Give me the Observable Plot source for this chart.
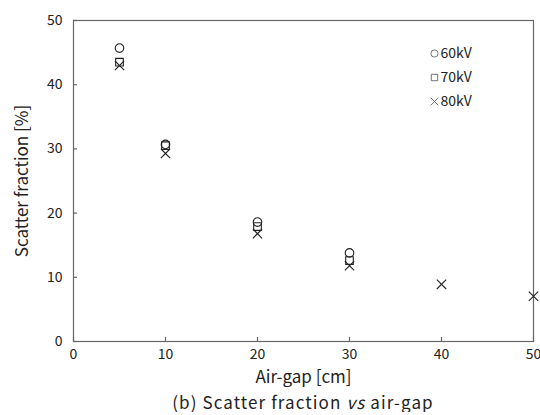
<!DOCTYPE html>
<html>
<head>
<meta charset="utf-8">
<script src="https://cdn.jsdelivr.net/npm/d3@7"></script>
<script src="https://cdn.jsdelivr.net/npm/@observablehq/plot@0.6"></script>
<style>
  body { margin: 0; background: #fff; }
  #chart { width: 540px; font-family: "Noto Sans CJK JP", "Noto Sans", sans-serif; color: #222; }
  #cap { width: 460px; padding-left: 73px; padding-right: 7px; text-align: center; font-family: "Noto Sans CJK JP", "Noto Sans", sans-serif; font-size: 17px; letter-spacing: 1.1px; line-height: 20px; margin-top: 2px; color: #222; white-space: nowrap; }
</style>
</head>
<body>
<div id="chart"></div>
<div id="cap">(b) Scatter fraction <i>vs</i> air-gap</div>
<script>
const airGap = [5, 10, 20, 30, 40, 50];
const series = ["60kV", "70kV", "80kV"];
const symbols = ["circle", "square", "times"];
const v60 = [45.7, 30.7, 18.6, 13.8, null, null];
const v70 = [43.5, 30.5, 17.9, 12.6, null, null];
const v80 = [43.0, 29.3, 16.8, 11.8, 8.9, 7.05];
const xTicks = [0, 10, 20, 30, 40, 50];
const yTicks = [0, 10, 20, 30, 40, 50];

const values = [v60, v70, v80];
const data = [];
series.forEach((s, i) => airGap.forEach((g, j) => {
  if (values[i][j] != null) data.push({gap: g, sf: values[i][j], series: s});
}));

const ink = "#222";
const W = 540, H = 390, ML = 73, MR = 7, MT = 20, MB = 49;
const innerW = W - ML - MR, innerH = H - MT - MB;

const legendMarks = series.flatMap((s, i) => [
  Plot.dot([s], {frameAnchor: "top-right", dx: -99, dy: 33 + i * 24, symbol: d => d, stroke: "#666", fill: "none", r: 3.6, strokeWidth: 0.9}),
  Plot.text([s], {frameAnchor: "top-right", dx: -93, dy: 33 + i * 24, text: d => d, textAnchor: "start", lineAnchor: "middle", fill: ink, fontSize: 14})
]);

const plot = Plot.plot({
  width: W,
  height: H,
  marginLeft: ML,
  marginRight: MR,
  marginTop: MT,
  marginBottom: MB,
  style: {fontFamily: '"Noto Sans CJK JP", "Noto Sans", sans-serif', fontSize: "14px", color: ink, background: "#fff"},
  x: {domain: [0, 50], ticks: xTicks},
  y: {domain: [0, 50], ticks: yTicks},
  symbol: {domain: series, range: symbols},
  marks: [
    Plot.frame({stroke: "#666", strokeWidth: 1.2}),
    Plot.tickX(xTicks, {x: d => d, stroke: "#666", strokeWidth: 1.2, insetTop: innerH - 4}),
    Plot.tickY(yTicks, {y: d => d, stroke: "#666", strokeWidth: 1.2, insetRight: innerW - 4}),
    Plot.axisX({ticks: xTicks, tickSize: 0, tickPadding: 8, fill: ink, fontSize: 14, label: null}),
    Plot.axisY({ticks: yTicks, tickSize: 0, tickPadding: 11, fill: ink, fontSize: 14, label: null}),
    Plot.text(["Air-gap [cm]"], {frameAnchor: "bottom", dy: 36, lineAnchor: "middle", textAnchor: "middle", text: d => d, fontSize: 17, fill: ink, letterSpacing: 0.8}),
    Plot.text(["Scatter fraction [%]"], {frameAnchor: "left", dx: -51, rotate: -90, lineAnchor: "middle", textAnchor: "middle", text: d => d, fontSize: 17, fill: ink, letterSpacing: 0.8}),
    Plot.dot(data, {x: "gap", y: "sf", symbol: "series", stroke: ink, fill: "none", r: 4.3, strokeWidth: 1.1}),
    ...legendMarks
  ]
});
document.getElementById("chart").appendChild(plot);
</script>
</body>
</html>
